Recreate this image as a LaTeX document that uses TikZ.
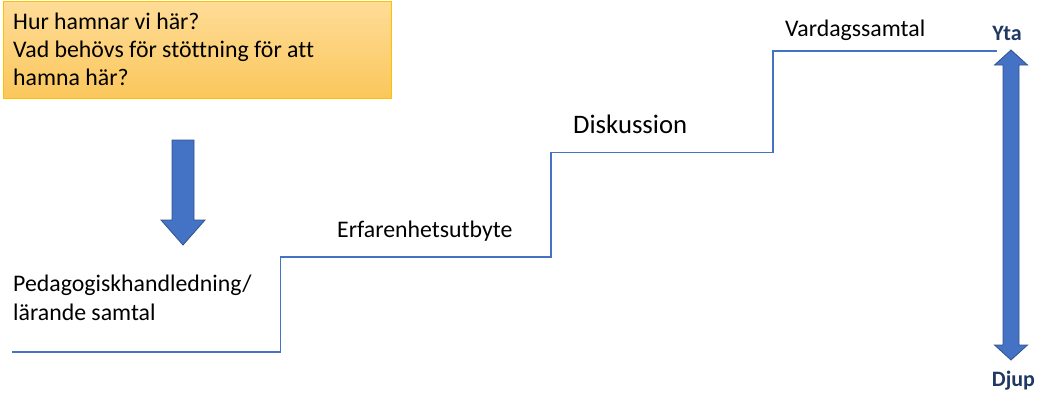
\documentclass[tikz,border=0pt]{standalone}
\usepackage{fontspec}
\setmainfont{Carlito}[Ligatures=NoCommon]
\definecolor{stepblue}{HTML}{4472C4}
\definecolor{arrowedge}{HTML}{2F528F}
\definecolor{navy}{HTML}{1F3864}
\definecolor{boxtop}{HTML}{FEDC97}
\definecolor{boxbot}{HTML}{FBC75C}
\definecolor{boxedge}{HTML}{FFC000}
\tikzset{
  lbl/.style={inner sep=0pt, anchor=base west, font=\fontsize{23.8}{28}\selectfont},
  endlbl/.style={inner sep=0pt, anchor=base, text=navy, font=\fontsize{22}{26}\selectfont\bfseries},
  blockarrow/.style={fill=stepblue, draw=arrowedge, line width=0.8pt, line join=miter},
  stair/.style={draw=stepblue, line width=1.1pt},
}
\begin{document}
\begin{tikzpicture}[x=1pt,y=-1pt]
\useasboundingbox (0,0) rectangle (1038,392);
% question box
\shade[top color=boxtop, bottom color=boxbot] (3.5,1.5) rectangle (391.5,98);
\draw[boxedge, line width=0.8pt] (3.5,1.5) rectangle (391.5,98);
\node[lbl] (q1) at (13,29.5) {Hur hamnar vi här?};
\node[lbl] (q2) at (13,57.5) {Vad behövs för stöttning för att};
\node[lbl] (q3) at (13,85.5) {hamna här?};
% down arrow
\draw[blockarrow] (172,140) -- (194,140) -- (194,220) -- (205,220) -- (183,245) -- (161,220) -- (172,220) -- cycle;
% staircase
\coordinate (s0) at (12,352);
\coordinate (s1) at (280.5,352);
\coordinate (s2) at (280.5,257);
\coordinate (s3) at (551,257);
\coordinate (s4) at (551,152.5);
\coordinate (s5) at (773,152.5);
\coordinate (s6) at (773,51);
\coordinate (s7) at (997,51);
\draw[stair] (s0) -- (s1) -- (s2) -- (s3) -- (s4) -- (s5) -- (s6) -- (s7);
% step labels
\node[lbl] (l1) at (13,291.5) {Pedagogiskhandledning/};
\node[lbl] (l2) at (13,320.5) {lärande samtal};
\node[lbl] (l3) at (337,237.5) {Erfarenhetsutbyte};
\node[lbl, font=\fontsize{26.7}{30}\selectfont] (l4) at (573,133.5) {Diskussion};
\node[lbl] (l5) at (785,36.5) {Vardagssamtal};
% double arrow
\draw[blockarrow] (1011,50) -- (1027.5,65) -- (1019,65) -- (1019,345) -- (1027.5,345) -- (1011,360) -- (994.5,345) -- (1003,345) -- (1003,65) -- (994.5,65) -- cycle;
\node[endlbl] (yta) at (1007,40.5) {Yta};
\node[endlbl] (djup) at (1013.5,386.5) {Djup};
\end{tikzpicture}
\end{document}
